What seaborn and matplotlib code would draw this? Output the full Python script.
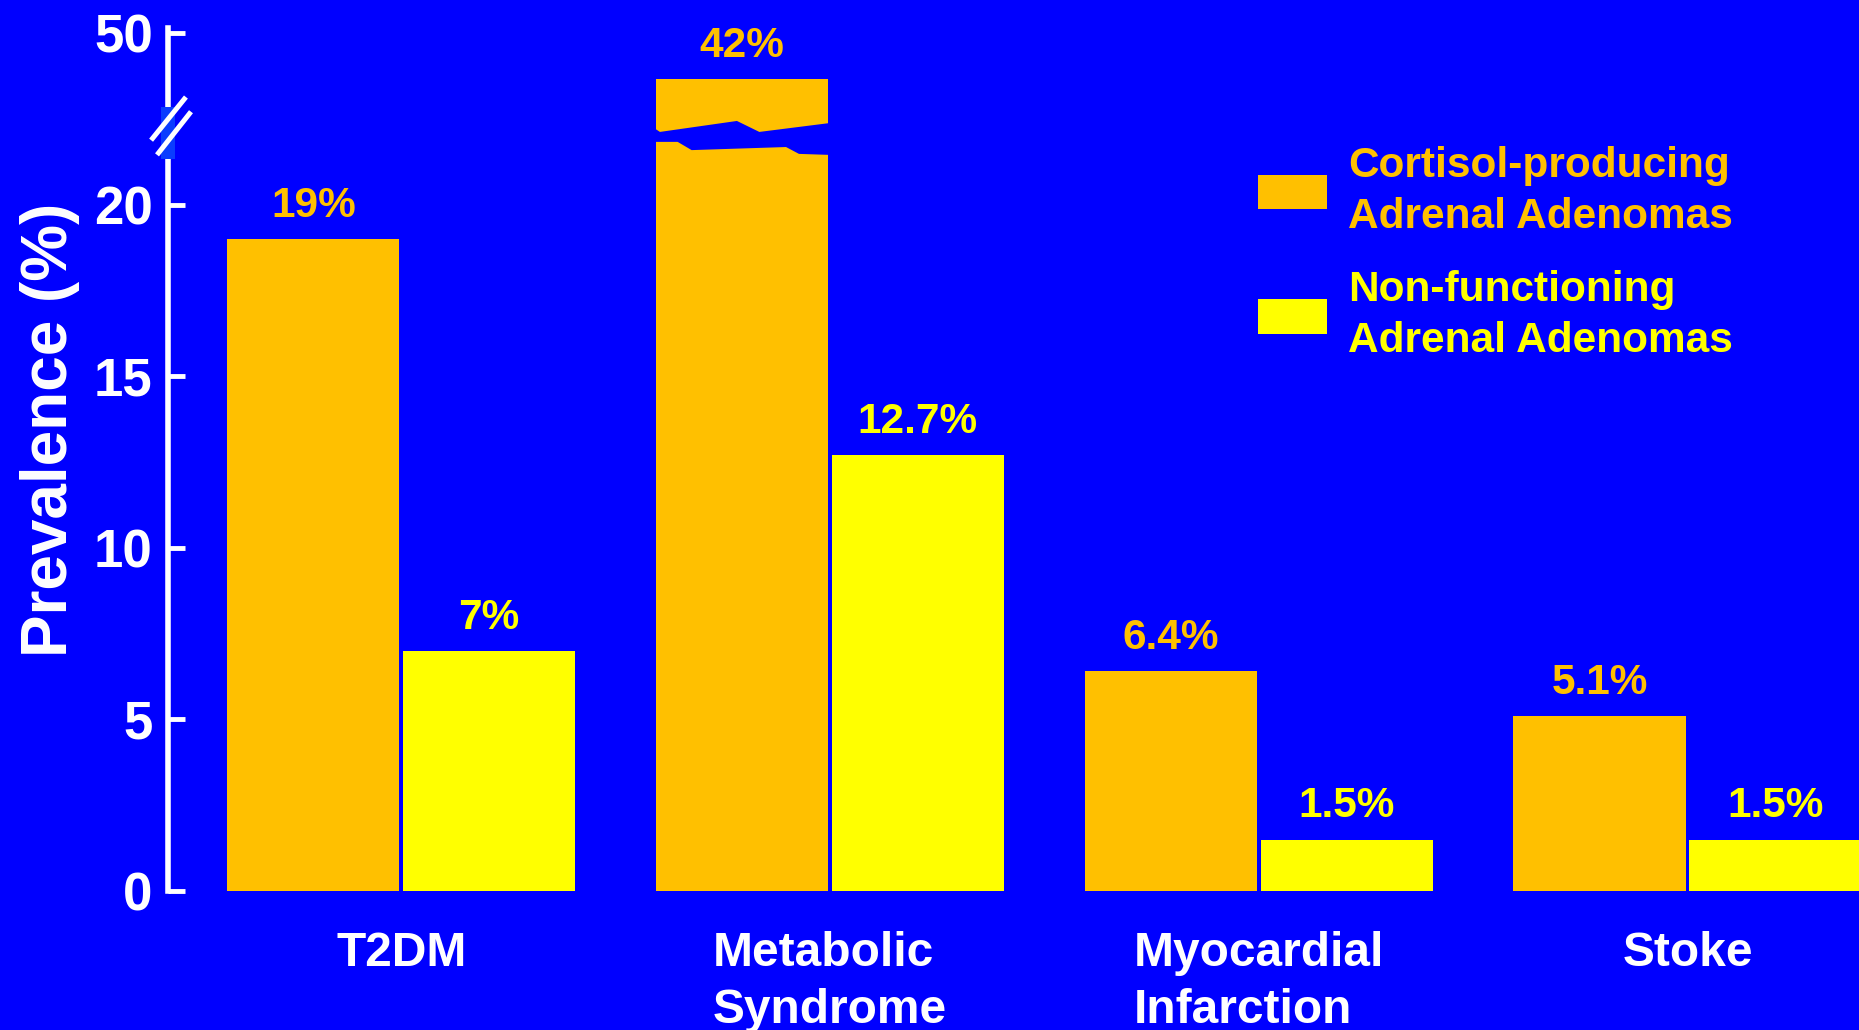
import numpy as np
import pandas as pd
import matplotlib
matplotlib.use("Agg")
import matplotlib.pyplot as plt
import seaborn as sns
from matplotlib.patches import Polygon, Rectangle
from matplotlib.lines import Line2D

# ---- data ----
conditions = ["T2DM", "Metabolic\nSyndrome", "Myocardial\nInfarction", "Stoke"]
groups = ["Cortisol-producing\nAdrenal Adenomas", "Non-functioning\nAdrenal Adenomas"]
cortisol_pct = [19, 42, 6.4, 5.1]
nonfunctioning_pct = [7, 12.7, 1.5, 1.5]
y_ticks = [0, 5, 10, 15, 20, 50]

BG = "#0000FF"
ORANGE = "#FFC000"
YELLOW = "#FFFF00"
palette = [ORANGE, YELLOW]

df = pd.DataFrame({
    "condition": conditions * 2,
    "group": [groups[0]] * 4 + [groups[1]] * 4,
    "prevalence": cortisol_pct + nonfunctioning_pct,
})

# ---- broken y scale: 0-20 linear, 20-50 compressed by 6x ----
BREAK = 20.0
SQUEEZE = 6.0


def fwd(y):
    y = np.asarray(y, dtype=float)
    return np.where(y <= BREAK, y, BREAK + (y - BREAK) / SQUEEZE)


def inv(d):
    d = np.asarray(d, dtype=float)
    return np.where(d <= BREAK, d, BREAK + (d - BREAK) * SQUEEZE)


sns.set_style("white", rc={"axes.facecolor": BG, "figure.facecolor": BG})
plt.rcParams["font.family"] = ["Liberation Sans", "DejaVu Sans"]
plt.rcParams["font.weight"] = "bold"

fig = plt.figure(figsize=(18.59, 10.30), dpi=100)
ax = fig.add_axes([168 / 1859, 139 / 1030, 1691 / 1859, 863 / 1030])

sns.barplot(data=df, x="condition", y="prevalence", hue="group",
            hue_order=groups, order=conditions, palette=palette,
            saturation=1, width=0.82, gap=0.02, linewidth=0,
            ax=ax, legend=True)

ax.set_yscale("function", functions=(fwd, inv))
ax.set_ylim(0, float(inv(25.16)))
ax.set_xlim(-0.544, 3.40)
ax.set_yticks(y_ticks)
ax.set_yticklabels([str(t) for t in y_ticks])

# spines
for side in ["top", "right", "bottom"]:
    ax.spines[side].set_visible(False)
ax.spines["left"].set_color("white")
ax.spines["left"].set_linewidth(4)

ax.tick_params(axis="y", left=True, direction="in", length=12, width=3.5,
               color="white", labelsize=38, labelcolor="white", pad=11)
ax.tick_params(axis="x", bottom=False, length=0, labelsize=34.5,
               labelcolor="white", pad=29)
for lab in ax.get_yticklabels() + ax.get_xticklabels():
    lab.set_fontweight("bold")
for lab in ax.get_xticklabels():
    lab.set_multialignment("left")
    lab.set_linespacing(1.34)

ax.set_xlabel("")
ax.set_ylabel("Prevalence (%)", fontsize=46, fontweight="bold", color="white")
ax.yaxis.set_label_coords(-0.052, 0.534)

# value labels above each bar
for container, vals, col in zip(ax.containers, [cortisol_pct, nonfunctioning_pct], palette):
    for bar, v in zip(container, vals):
        ax.annotate(f"{v:g}%", (bar.get_x() + bar.get_width() / 2, v),
                    xytext=(0, 16), textcoords="offset points",
                    ha="center", va="baseline", fontsize=30.5,
                    fontweight="bold", color=col, annotation_clip=False)

# zig-zag cut through the tall Metabolic Syndrome bar
tall = ax.containers[0][1]
x0, w = tall.get_x(), tall.get_width()
top_edge = [(-0.01, 22.24), (0.023, 22.13), (0.47, 22.45), (0.60, 22.13), (1.01, 22.39)]
bottom_edge = [(1.01, 21.46), (0.83, 21.49), (0.755, 21.69), (0.207, 21.60),
               (0.126, 21.84), (-0.01, 21.84)]
cut = [(x0 + f * w, float(inv(d))) for f, d in top_edge + bottom_edge]
ax.add_patch(Polygon(cut, closed=True, facecolor=BG, edgecolor="none", zorder=5))

# break marks on the y axis
ax.add_patch(Rectangle((-0.004, 0.848), 0.008, 0.06, transform=ax.transAxes,
                       facecolor="#0A3CFF", edgecolor="none", clip_on=False, zorder=6))
for (xa, ya), (xb, yb) in [((-0.010, 0.870), (0.0106, 0.920)),
                           ((-0.0065, 0.853), (0.0136, 0.903))]:
    ax.add_line(Line2D([xa, xb], [ya, yb], transform=ax.transAxes, color="white",
                       lw=3.6, clip_on=False, zorder=7, solid_capstyle="butt"))

# legend
handles, labels = ax.get_legend_handles_labels()
ax.get_legend().remove()
leg = fig.legend(handles, labels, loc="upper left",
                 bbox_to_anchor=(1258 / 1859, 0.8585), frameon=False,
                 prop={"size": 30.5, "weight": "bold"}, handlelength=1.62,
                 handleheight=0.87, handletextpad=0.5, labelspacing=0.78,
                 borderpad=0, borderaxespad=0)
for txt, col in zip(leg.get_texts(), palette):
    txt.set_color(col)
    txt.set_linespacing(1.36)

fig.savefig("out.png", dpi=100, facecolor=BG)
